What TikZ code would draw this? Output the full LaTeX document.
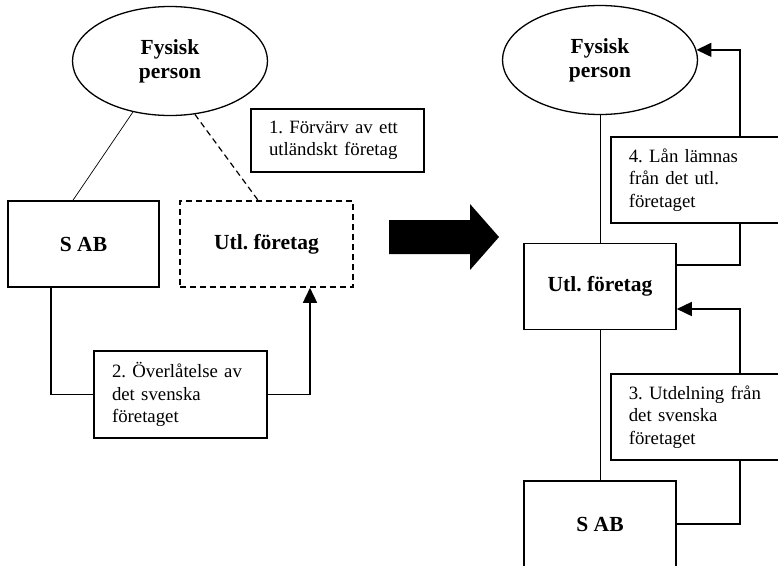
\documentclass[tikz,border=0pt]{standalone}
\usepackage{fontspec}
\setmainfont{Liberation Serif}
\usetikzlibrary{arrows.meta,shapes.geometric}
\frenchspacing

\begin{document}
\begin{tikzpicture}[x = 1pt, y = -1pt, >= {Triangle[length = 15pt, width = 14pt]},
    font = \fontsize{18.8}{22.5}\selectfont,
    party/.style = {ellipse, draw, line width = 1.3pt, minimum width = 195pt, minimum height = 109pt,
        inner sep = 0pt, align = center, font = \fontsize{21.5}{24}\selectfont\bfseries},
    firm/.style = {draw, line width = 1.6pt, minimum width = 152pt, minimum height = 86pt,
        font = \fontsize{21.5}{24}\selectfont\bfseries},
    event/.style = {draw, line width = 1.6pt, inner xsep = 18pt, align = left, minimum height = 86pt},
    link/.style = {line width = 0.7pt},
    flow/.style = {line width = 1.6pt}]

    \clip (0, 0) rectangle (778, 565);

    \node [party] (fpL) at (170, 61) {Fysisk\\person};
    \node [firm, minimum width = 151pt] (sabL) at (83.5, 244) {S AB};
    \node [firm, minimum width = 173pt, dash pattern = on 6pt off 4pt] (utlL) at (266.5, 244) {Utl. företag};
    \node [event, text width = 137pt, minimum height = 63pt] (forvarv) at (337.5, 140.5) {1. Förvärv av ett\\utländskt företag};
    \node [event, text width = 137pt, minimum height = 87pt] (overlat) at (180.5, 394.5) {2. Överlåtelse av\\det svenska\\företaget};

    \draw [link] (fpL.234) -- ([xshift = -10.5pt] sabL.north);
    \draw [line width = 1.2pt, dash pattern = on 6pt off 4pt] (fpL.295) -- ([xshift = -8.5pt] utlL.north);
    \draw [flow] ([xshift = -32.5pt] sabL.south) |- (overlat.west);
    \draw [flow, ->] (overlat.east) -| ([xshift = 43.5pt] utlL.south);

    \fill (389, 220) -- (470, 220) -- (470, 204) -- (499, 237) -- (470, 270) -- (470, 254) -- (389, 254) -- cycle;

    %%%%%%%%%%%%%%%%%%%%
    \node [party] (fpR) at (600, 60) {Fysisk\\person};
    \node [firm] (utlR) at (600, 286.5) {Utl. företag};
    \node [firm] (sabR) at (600, 524) {S AB};
    \node [event, text width = 154pt, anchor = north west] (lan) at (610, 136) {4. Lån lämnas\\från det utl.\\företaget};
    \node [event, text width = 154pt, anchor = north west] (utdel) at (610, 373) {3. Utdelning från\\det svenska\\företaget};

    \draw [link] (fpR.south) -- (utlR.north);
    \draw [link] (utlR.south) -- (sabR.north);
    \draw [flow, ->] ([xshift = 130pt] lan.north west) |- (fpR.6);
    \draw [flow] ([xshift = 130pt] lan.south west) |- ([yshift = 21.5pt] utlR.east);
    \draw [flow, ->] ([xshift = 130pt] utdel.north west) |- ([yshift = -22.5pt] utlR.east);
    \draw [flow] (sabR.east) -| ([xshift = 130pt] utdel.south west);
\end{tikzpicture}
\end{document}
